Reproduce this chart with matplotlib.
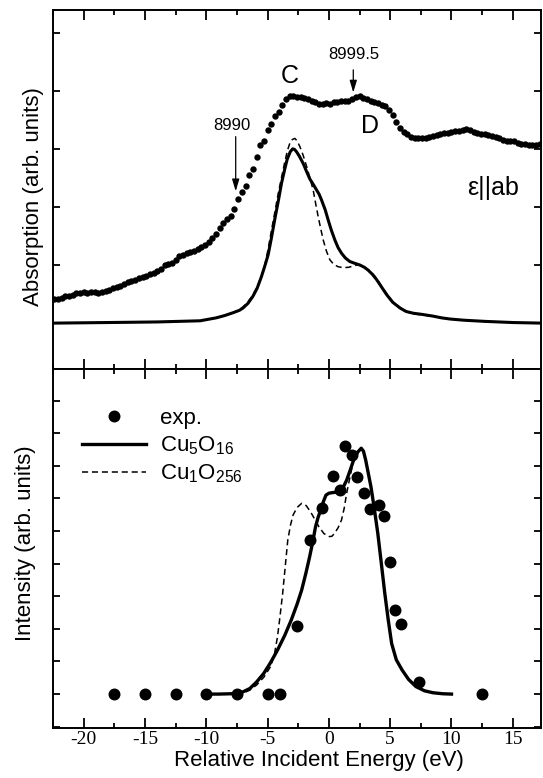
# -*- coding: utf-8 -*-
# XANES absorption (top) and RIXS intensity vs relative incident energy (bottom)

import matplotlib
matplotlib.use('Agg')
import matplotlib.pyplot as plt
from matplotlib.ticker import MultipleLocator

plt.rcParams['font.family'] = ['Liberation Sans', 'DejaVu Sans']
plt.rcParams['axes.unicode_minus'] = False
plt.rcParams['mathtext.fontset'] = 'custom'
plt.rcParams['mathtext.rm'] = 'Liberation Sans'
plt.rcParams['mathtext.it'] = 'Liberation Sans:italic'

# ---- top panel: absorption, exp. dots ----
abs_e = [-22.4, -22.1, -21.8, -21.5, -21.2, -20.9, -20.6, -20.3, -20.0, -19.7,
         -19.4, -19.1, -18.8, -18.5, -18.2, -17.9, -17.6, -17.3, -17.0, -16.7,
         -16.4, -16.1, -15.8, -15.5, -15.2, -14.9, -14.6, -14.3, -14.0, -13.7,
         -13.4, -13.1, -12.8, -12.5, -12.2, -11.9, -11.6, -11.3, -11.0, -10.7,
         -10.4, -10.1, -9.8, -9.5, -9.2, -8.9, -8.6, -8.3, -8.0, -7.7,
         -7.4, -7.1, -6.8, -6.5, -6.2, -5.9, -5.6, -5.3, -5.0, -4.7,
         -4.4, -4.1, -3.8, -3.5, -3.2, -2.9, -2.6, -2.3, -2.0, -1.7,
         -1.4, -1.1, -0.8, -0.5, -0.2, 0.1, 0.4, 0.7, 1.0, 1.3,
         1.6, 1.9, 2.2, 2.5, 2.8, 3.1, 3.4, 3.7, 4.0, 4.3,
         4.6, 4.9, 5.2, 5.5, 5.8, 6.1, 6.4, 6.7, 7.0, 7.3,
         7.6, 7.9, 8.2, 8.5, 8.8, 9.1, 9.4, 9.7, 10.0, 10.3,
         10.6, 10.9, 11.2, 11.5, 11.8, 12.1, 12.4, 12.7, 13.0, 13.3,
         13.6, 13.9, 14.2, 14.5, 14.8, 15.1, 15.4, 15.7, 16.0, 16.3,
         16.6, 16.9, 17.2]
abs_exp = [0.41, 0.42, 0.44, 0.46, 0.47, 0.49, 0.51, 0.52, 0.53, 0.52,
           0.53, 0.53, 0.52, 0.53, 0.55, 0.57, 0.60, 0.63, 0.64, 0.67,
           0.70, 0.72, 0.74, 0.77, 0.79, 0.81, 0.84, 0.86, 0.90, 0.94,
           1.00, 1.01, 1.04, 1.09, 1.15, 1.17, 1.20, 1.22, 1.24, 1.27,
           1.31, 1.34, 1.39, 1.47, 1.54, 1.63, 1.72, 1.79, 1.85, 1.97,
           2.13, 2.26, 2.36, 2.55, 2.65, 2.86, 3.07, 3.13, 3.33, 3.42,
           3.56, 3.64, 3.75, 3.86, 3.91, 3.91, 3.90, 3.89, 3.87, 3.85,
           3.83, 3.80, 3.77, 3.78, 3.79, 3.78, 3.80, 3.80, 3.82, 3.83,
           3.82, 3.86, 3.89, 3.91, 3.88, 3.86, 3.83, 3.81, 3.79, 3.76,
           3.73, 3.66, 3.58, 3.46, 3.36, 3.29, 3.25, 3.21, 3.19, 3.18,
           3.19, 3.19, 3.20, 3.22, 3.24, 3.26, 3.27, 3.28, 3.29, 3.30,
           3.31, 3.32, 3.35, 3.33, 3.29, 3.28, 3.26, 3.25, 3.23, 3.22,
           3.20, 3.18, 3.16, 3.13, 3.14, 3.13, 3.10, 3.08, 3.08, 3.06,
           3.07, 3.07, 3.08]

# top panel: calculated spectra (Cu5O16 solid, Cu1O256 dashed)
abs_cu5_e = [-22.4, -18.0, -14.0, -10.5, -9.2, -8.5, -7.8, -7.3, -7.0, -6.6,
             -6.2, -5.85, -5.5, -5.2, -4.95, -4.7, -4.4, -4.1, -3.86, -3.6,
             -3.4, -3.15, -2.95, -2.8, -2.64, -2.4, -2.1, -1.8, -1.55, -1.25,
             -1.0, -0.8, -0.6, -0.3, -0.05, 0.2, 0.49, 0.75, 1.04, 1.35,
             1.71, 2.1, 2.53, 2.9, 3.21, 3.55, 3.89, 4.3, 4.71, 5.2,
             5.8, 6.3, 6.88, 7.6, 8.5, 9.2, 9.9, 11.0, 12.7, 15.0,
             17.3]
abs_cu5 = [0.0, 0.01, 0.02, 0.04, 0.09, 0.13, 0.18, 0.22, 0.26, 0.34,
           0.46, 0.60, 0.80, 1.00, 1.18, 1.45, 1.80, 2.13, 2.41, 2.65,
           2.82, 2.95, 3.00, 2.99, 2.95, 2.87, 2.75, 2.60, 2.48, 2.38,
           2.29, 2.22, 2.12, 1.95, 1.77, 1.60, 1.43, 1.30, 1.20, 1.12,
           1.06, 1.03, 1.00, 0.96, 0.91, 0.84, 0.75, 0.62, 0.49, 0.36,
           0.26, 0.20, 0.17, 0.15, 0.12, 0.09, 0.07, 0.05, 0.03, 0.01,
           0.0]
abs_cu1_e = [-22.4, -18.0, -14.0, -10.5, -9.2, -8.5, -7.8, -7.3, -7.0, -6.7,
             -6.3, -5.9, -5.55, -5.22, -4.95, -4.68, -4.4, -4.14, -3.85, -3.59,
             -3.38, -3.18, -2.98, -2.78, -2.6, -2.37, -2.1, -1.82, -1.55, -1.28,
             -1.08, -0.87, -0.66, -0.46, -0.2, 0.08, 0.4, 0.76, 1.15, 1.58,
             1.95, 2.26, 2.6, 2.9, 3.21, 3.55, 3.89, 4.3, 4.71, 5.2,
             5.8, 6.3, 6.88, 7.6, 8.5, 9.2, 9.9, 11.0, 12.7, 15.0,
             17.3]
abs_cu1 = [0.0, 0.01, 0.02, 0.04, 0.09, 0.13, 0.18, 0.23, 0.28, 0.34,
           0.45, 0.60, 0.78, 1.00, 1.28, 1.60, 1.92, 2.22, 2.52, 2.78,
           2.97, 3.10, 3.16, 3.18, 3.14, 3.04, 2.89, 2.70, 2.50, 2.29,
           2.06, 1.83, 1.62, 1.43, 1.24, 1.09, 1.01, 0.97, 0.955, 0.96,
           0.98, 1.00, 0.99, 0.96, 0.92, 0.85, 0.77, 0.63, 0.51, 0.37,
           0.27, 0.20, 0.16, 0.14, 0.12, 0.09, 0.07, 0.05, 0.03, 0.01,
           0.0]

# ---- bottom panel: RIXS intensity ----
rixs_e = [-17.5, -15.0, -12.5, -10.0, -7.5, -5.0, -4.0, -2.56, -1.57, -0.58,
          0.32, 0.89, 1.34, 1.87, 2.30, 2.86, 3.37, 4.05, 4.47, 4.98,
          5.40, 5.88, 7.38, 12.5]
rixs_exp = [0.0, 0.0, 0.0, 0.0, 0.0, 0.0, 0.0, 2.10, 4.74, 5.72,
            6.69, 6.26, 7.61, 7.33, 6.67, 6.16, 5.67, 5.80, 5.47, 4.06,
            2.58, 2.14, 0.36, 0.0]

cu5_e = [-10.0, -9.0, -8.0, -7.58, -7.0, -6.45, -5.9, -5.32, -4.75, -4.19,
         -3.6, -3.07, -2.6, -2.22, -1.88, -1.57, -1.3, -1.09, -0.88, -0.67,
         -0.45, -0.24, 0.0, 0.32, 0.6, 0.89, 1.15, 1.45, 1.75, 2.02,
         2.35, 2.64, 2.82, 3.0, 3.2, 3.43, 3.7, 3.99, 4.28, 4.56,
         4.85, 5.12, 5.5, 5.97, 6.5, 7.1, 7.8, 8.51, 9.3, 10.0]
cu5_int = [0.0, 0.0, 0.01, 0.02, 0.07, 0.17, 0.37, 0.63, 0.97, 1.35,
           1.80, 2.27, 2.75, 3.19, 3.70, 4.21, 4.70, 5.13, 5.42, 5.64,
           5.90, 6.10, 6.16, 6.18, 6.19, 6.21, 6.33, 6.56, 6.88, 7.18,
           7.42, 7.54, 7.45, 7.18, 6.80, 6.36, 5.70, 4.93, 4.00, 3.09,
           2.25, 1.55, 1.05, 0.74, 0.45, 0.23, 0.10, 0.04, 0.01, 0.0]

cu1_e = [-10.0, -8.0, -7.0, -6.45, -5.89, -5.3, -4.76, -4.45, -4.19, -3.98,
         -3.77, -3.55, -3.35, -3.12, -2.92, -2.6, -2.22, -1.85, -1.51, -1.15,
         -0.81, -0.4, 0.04, 0.25, 0.46, 0.75, 1.03, 1.25, 1.45, 1.73,
         2.02, 2.35, 2.64, 2.82, 3.0, 3.2, 3.43, 3.7, 3.99, 4.28,
         4.56, 4.85, 5.12, 5.5, 5.97, 6.5, 7.1, 7.8, 8.51, 9.3,
         10.0]
cu1_int = [0.0, 0.01, 0.03, 0.12, 0.28, 0.52, 0.84, 1.20, 1.76, 2.40,
           3.09, 3.95, 4.73, 5.20, 5.49, 5.72, 5.85, 5.78, 5.60, 5.36,
           5.13, 4.92, 4.83, 4.84, 4.93, 5.10, 5.34, 5.70, 6.16, 6.67,
           7.18, 7.42, 7.54, 7.45, 7.18, 6.80, 6.36, 5.70, 4.93, 4.00,
           3.09, 2.25, 1.55, 1.05, 0.74, 0.45, 0.23, 0.10, 0.04, 0.01,
           0.0]

W, H = 543, 778
fig = plt.figure(figsize=(W / 100, H / 100), dpi=100)
left, right = 53 / W, 541 / W
ax1 = fig.add_axes([left, 1 - 369 / H, right - left, (369 - 10) / H])
ax2 = fig.add_axes([left, 1 - 728 / H, right - left, (728 - 369) / H])

lab_fs = 16


def style(ax):
    for s in ax.spines.values():
        s.set_linewidth(1.4)
    ax.set_xlim(-22.5, 17.3)
    ax.xaxis.set_major_locator(MultipleLocator(5))
    ax.xaxis.set_minor_locator(MultipleLocator(2.5))
    ax.yaxis.set_major_locator(MultipleLocator(1))
    ax.tick_params(which='both', direction='in', top=True, right=True, width=1.3)
    ax.tick_params(axis='x', which='major', length=7)
    ax.tick_params(axis='x', which='minor', length=3.8)
    ax.tick_params(axis='y', which='major', length=5)
    ax.set_yticklabels([])


# top
style(ax1)
ax1.set_ylim(-0.79, 5.39)
ax1.set_xticklabels([])
ax1.plot(abs_e, abs_exp, 'o', color='k', ms=4.6, mew=0)
ax1.plot(abs_cu5_e, abs_cu5, '-', color='k', lw=2.2)
ax1.plot(abs_cu1_e, abs_cu1, color='k', lw=1.1, dashes=(4, 2.5))
ax1.set_ylabel('Absorption (arb. units)', fontsize=lab_fs)
ax1.yaxis.set_label_coords(-0.018, 0.479)

arr = dict(arrowstyle='-|>,head_width=0.18,head_length=0.6', color='k', lw=0.9,
           mutation_scale=12, shrinkA=0, shrinkB=0)
ax1.annotate('', xy=(-7.6, 2.27), xytext=(-7.6, 3.21), arrowprops=arr)
ax1.text(-7.89, 3.33, '8990', fontsize=12, ha='center', va='baseline')
ax1.annotate('', xy=(1.99, 3.97), xytext=(1.99, 4.36), arrowprops=arr)
ax1.text(2.03, 4.54, '8999.5', fontsize=12, ha='center', va='baseline')
ax1.text(-3.18, 4.13, 'C', fontsize=18, ha='center', va='baseline')
ax1.text(3.35, 3.27, 'D', fontsize=18, ha='center', va='baseline')
ax1.text(13.36, 2.2, 'ε||ab', fontsize=18, ha='center', va='baseline')

# bottom
style(ax2)
ax2.set_ylim(-1.04, 9.97)
ax2.plot(rixs_e, rixs_exp, 'o', color='k', ms=8.6, mew=0, label='exp.')
ax2.plot(cu5_e, cu5_int, '-', color='k', lw=2.4,
         label=r'Cu$_\mathregular{5}$O$_\mathregular{16}$')
ax2.plot(cu1_e, cu1_int, color='k', lw=1.1, dashes=(4, 2.5),
         label=r'Cu$_\mathregular{1}$O$_\mathregular{256}$')
ax2.tick_params(axis='x', which='major', pad=2, labelsize=14,
                labelfontfamily='Liberation Serif')
ax2.set_xlabel('Relative Incident Energy (eV)', fontsize=lab_fs)
ax2.xaxis.set_label_coords(0.545, -0.06)
ax2.xaxis.label.set_va('top')
ax2.set_ylabel('Intensity (arb. units)', fontsize=lab_fs)
ax2.yaxis.set_label_coords(-0.035, 0.514)

ax2.legend(loc='upper left', bbox_to_anchor=(0.059, 0.891), frameon=False,
           fontsize=16, handlelength=2.9, handletextpad=0.6, labelspacing=0.25,
           borderpad=0, borderaxespad=0, numpoints=1)

fig.savefig('out.png', dpi=100)
